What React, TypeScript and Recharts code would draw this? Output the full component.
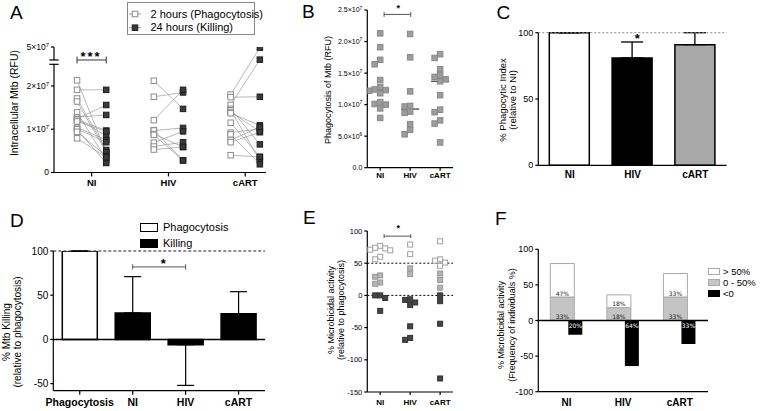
import React from "react";
import {
    ScatterChart,
    Scatter,
    BarChart,
    Bar,
    XAxis,
    YAxis,
    ReferenceLine,
    ErrorBar,
    LabelList,
    Cell,
} from "recharts";

const FONT = "'Liberation Sans', Arial, Helvetica, sans-serif";
const AXIS = { stroke: "#000", strokeWidth: 1.2 };

// groups shared by every panel
const groups = ["NI", "HIV", "cART"];

// A + B: intracellular Mtb (RFU) at 2 h (phagocytosis) and 24 h (killing)
const niPhago = [2.13e7, 1.91e7, 1.71e7, 1.64e7, 1.39e7, 1.28e7, 1.24e7, 1.23e7, 1.22e7, 1.18e7, 1.04e7, 1.01e7, 1.0e7, 0.94e7, 0.79e7];
const niKill = [0.45e7, 1.91e7, 0.52e7, 0.47e7, 0.3e7, 1.33e7, 1.56e7, 0.85e7, 0.97e7, 0.95e7, 0.75e7, 0.7e7, 0.22e7, 0.38e7, 0.35e7];
const hivPhago = [2.12e7, 1.75e7, 1.21e7, 0.98e7, 0.97e7, 0.89e7, 0.87e7, 0.69e7, 0.6e7, 0.53e7];
const hivKill = [1.47e7, 1.85e7, 1.91e7, 0.28e7, 1.03e7, 0.59e7, 0.28e7, 0.95e7, 0.7e7, 0.59e7];
const cartPhago = [1.8e7, 1.74e7, 1.56e7, 1.47e7, 1.44e7, 1.4e7, 1.37e7, 1.15e7, 0.92e7, 0.88e7, 0.75e7, 0.7e7, 0.4e7];
const cartKill = [4.9e7, 1.75e7, 3.05e7, 0.65e7, 0.28e7, 0.95e7, 1.09e7, 0.36e7, 1.01e7, 0.19e7, 1.05e7, 0.93e7, 0.36e7];

// C: phagocytic index relative to NI
const phagoIndex = [100, 81, 91];
const phagoIndexErr = [0, 12, 9];

// D: % Mtb killing relative to phagocytosis
const killCats = ["Phagocytosis", "NI", "HIV", "cART"];
const killMean = [100, 30, -6, 29];
const killErrLow = [0, 0, 46, 0];
const killErrHigh = [0, 41, 0, 25];

// E: % microbicidal activity per individual
const niMicro = [77, 73, 70, 71, 74, 60, 56, 29, 20, 31, 18, 0, 0, -4, -24];
const hivMicro = [79, 64, 42, 33, -7, -15, -11, -6, -48, -69, -66];
const cartMicro = [84, 56, 51, 46, 54, 34, 24, 12, 0, -9, -44, -129];

// F: frequency of individuals (%)
const freqHigh = [47, 18, 33];
const freqMid = [33, 18, 33];
const freqNeg = [20, 64, 33];

// broken y axis of panel A: 0-2.5e7 linear, 3e7-5e7 squeezed on top
const brk = (v: number) => (v <= 2.5e7 ? v : 2.6e7 + (v - 3e7) * 0.15);
const unbrk = (v: number) => (v <= 2.5e7 ? v : 3e7 + (v - 2.6e7) / 0.15);

const median = (a: number[]) => {
    const s = [...a].sort((x, y) => x - y);
    const m = Math.floor(s.length / 2);
    return s.length % 2 ? s[m] : (s[m - 1] + s[m]) / 2;
};

// simple beeswarm: horizontal pixel offsets so squares don't overlap
function swarm(values: number[], pxPerUnit: number, size: number) {
    const order = values.map((_, i) => i).sort((a, b) => values[b] - values[a]);
    const placed: { x: number; y: number }[] = [];
    const off = values.map(() => 0);
    for (const i of order) {
        const y = values[i] * pxPerUnit;
        for (let k = 0; k < 30; k++) {
            const c = k === 0 ? 0 : (k % 2 ? -1 : 1) * Math.ceil(k / 2) * size;
            if (placed.every((p) => Math.abs(p.x - c) >= size || Math.abs(p.y - y) >= size)) {
                off[i] = c;
                placed.push({ x: c, y });
                break;
            }
        }
    }
    return off;
}

const square = (size: number, fill: string, stroke: string) => (p: any) => (
    <rect x={p.cx - size / 2} y={p.cy - size / 2} width={size} height={size} fill={fill} stroke={stroke} strokeWidth={1} />
);

const sciTick = (fs: number, digits: number, unmap?: (v: number) => number) => (p: any) => {
    const raw = unmap ? unmap(p.payload.value) : p.payload.value;
    let main = digits ? (0).toFixed(digits) : "0";
    let exp = "";
    if (raw !== 0) {
        const e = Math.floor(Math.log10(raw) + 1e-9);
        main = (raw / 10 ** e).toFixed(digits) + "×10";
        exp = String(e);
    }
    return (
        <text x={p.x} y={p.y} dy={fs * 0.35} textAnchor="end" fontSize={fs} fontFamily={FONT} fill="#000">
            {main}
            {exp && (
                <tspan dy={-fs * 0.4} fontSize={fs * 0.7}>
                    {exp}
                </tspan>
            )}
        </text>
    );
};

const catTick = (fs: number) => ({ fontSize: fs, fontWeight: 700, fill: "#000", fontFamily: FONT });
const numTick = (fs: number) => ({ fontSize: fs, fill: "#000", fontFamily: FONT });

// ---------- table building ----------
const pairsA = [
    [niPhago, niKill],
    [hivPhago, hivKill],
    [cartPhago, cartKill],
];
const subjectsA = pairsA.flatMap(([p, k], g) =>
    p.map((pv, i) => [
        { x: g + 1 - 0.19, y: brk(pv) },
        { x: g + 1 + 0.19, y: brk(k[i]) },
    ])
);
const openA = subjectsA.map((s) => s[0]);
const fillA = subjectsA.map((s) => s[1]);

const B_PX = 157.7 / 2.5e7;
const phagoGroups = [niPhago, hivPhago, cartPhago];
const dataB = phagoGroups.flatMap((vals, g) => {
    const off = swarm(vals, B_PX, 5.5);
    return vals.map((v, i) => ({ x: g + 1 + off[i] / 30, y: v }));
});

const dataC = groups.map((name, i) => ({ name, v: phagoIndex[i], err: [0, phagoIndexErr[i]] }));
const dataD = killCats.map((name, i) => ({ name, v: killMean[i], err: [killErrLow[i], killErrHigh[i]] }));

const microGroups = [niMicro, hivMicro, cartMicro];
const dataE = microGroups.flatMap((vals, g) => {
    const off = swarm(vals, 0.644, 5);
    return vals.map((v, i) => ({ x: g + 1 + off[i] / 30, y: v }));
});

const dataF = groups.map((name, i) => ({ name, mid: freqMid[i], high: freqHigh[i], neg: -freqNeg[i] }));

const eShape = (p: any) => {
    const v = p.payload.y;
    const [fill, stroke] = v >= 45 ? ["#fff", "#a0a0a0"] : v > 0 ? ["#b4b4b4", "#999"] : ["#444", "#333"];
    return <rect x={p.cx - 2.5} y={p.cy - 2.5} width={5} height={5} fill={fill} stroke={stroke} strokeWidth={1} />;
};

const fLabel = (where: "bottom" | "top", color: string) => (p: any) => {
    const top = Math.min(p.y, p.y + p.height);
    const bot = Math.max(p.y, p.y + p.height);
    const ty = where === "bottom" ? bot - 1.5 : top + 7;
    return (
        <text x={p.x + p.width / 2} y={ty} textAnchor="middle" fontSize={6} fontFamily="'DejaVu Sans', sans-serif" fill={color}>
            {Math.abs(p.value)}%
        </text>
    );
};

// ---------- html helpers ----------
const Abs = ({ x, y, fs, children, center, bold, ls }: any) => (
    <div
        style={{
            position: "absolute",
            left: x,
            top: y,
            fontSize: fs,
            lineHeight: `${fs}px`,
            fontFamily: FONT,
            fontWeight: bold ? 700 : 400,
            whiteSpace: "nowrap",
            letterSpacing: ls,
            transform: center ? "translateX(-50%)" : undefined,
        }}
    >
        {children}
    </div>
);

const VLabel = ({ cx, cy, fs, lh, lines }: any) => (
    <div
        style={{
            position: "absolute",
            left: cx,
            top: cy,
            transform: "translate(-50%,-50%) rotate(-90deg)",
            fontSize: fs,
            lineHeight: `${lh}px`,
            fontFamily: FONT,
            textAlign: "center",
            whiteSpace: "nowrap",
        }}
    >
        {lines.map((l: string) => (
            <div key={l}>{l}</div>
        ))}
    </div>
);

const Box = ({ x, y, w, h, fill, stroke }: any) => (
    <div style={{ position: "absolute", left: x, top: y, width: w, height: h, background: fill, border: `1px solid ${stroke}`, boxSizing: "border-box" }} />
);

const layer: React.CSSProperties = { position: "absolute", left: 0, top: 0 };

export default function App() {
    return (
        <div style={{ position: "absolute", left: 0, top: 0, width: 760, height: 411, background: "#fff", overflow: "hidden" }}>
            {/* A */}
            <div style={layer}>
                <ScatterChart width={760} height={411} margin={{ top: 47, right: 494, bottom: 218.5, left: 14 }}>
                    <XAxis type="number" dataKey="x" domain={[0.51, 3.27]} ticks={[1, 2, 3]} allowDataOverflow
                        tickFormatter={(v) => groups[v - 1]} tick={catTick(9.5)} tickSize={4} tickMargin={3}
                        axisLine={AXIS} tickLine={AXIS} height={20} />
                    <YAxis type="number" dataKey="y" domain={[0, 2.9e7]} ticks={[0, 1e7, 2e7, brk(5e7)]} allowDataOverflow
                        width={40} axisLine={false} tickLine={AXIS} tickSize={3} tick={sciTick(8.5, 0, unbrk)} />
                    <ReferenceLine segment={[{ x: 0.51, y: 0 }, { x: 0.51, y: 2.5e7 }]} stroke="#000" strokeWidth={1.2} ifOverflow="visible" />
                    <ReferenceLine segment={[{ x: 0.51, y: 2.6e7 }, { x: 0.51, y: 2.9e7 }]} stroke="#000" strokeWidth={1.2} ifOverflow="visible" />
                    <ReferenceLine segment={[{ x: 0.45, y: 2.5e7 }, { x: 0.57, y: 2.5e7 }]} stroke="#000" strokeWidth={1.2} ifOverflow="visible" />
                    <ReferenceLine segment={[{ x: 0.45, y: 2.6e7 }, { x: 0.57, y: 2.6e7 }]} stroke="#000" strokeWidth={1.2} ifOverflow="visible" />
                    <ReferenceLine segment={[{ x: 0.81, y: 2.6e7 }, { x: 1.19, y: 2.6e7 }]} stroke="#333" ifOverflow="visible" />
                    <ReferenceLine segment={[{ x: 0.81, y: 2.52e7 }, { x: 0.81, y: 2.68e7 }]} stroke="#333" ifOverflow="visible" />
                    <ReferenceLine segment={[{ x: 1.19, y: 2.52e7 }, { x: 1.19, y: 2.68e7 }]} stroke="#333" ifOverflow="visible" />
                    {subjectsA.map((s, i) => (
                        <Scatter key={i} data={s} line={{ stroke: "#9a9a9a", strokeWidth: 0.7 }} shape={() => <g />} isAnimationActive={false} />
                    ))}
                    <Scatter data={openA} shape={square(5.5, "#fff", "#8c8c8c")} isAnimationActive={false} />
                    <Scatter data={fillA} shape={square(5.5, "#3a3a3a", "#1e1e1e")} isAnimationActive={false} />
                </ScatterChart>
            </div>

            {/* B */}
            <div style={layer}>
                <ScatterChart width={760} height={411} margin={{ top: 10, right: 307, bottom: 223.3, left: 317.3 }}>
                    <XAxis type="number" dataKey="x" domain={[0.57, 3.43]} ticks={[1, 2, 3]} allowDataOverflow
                        tickFormatter={(v) => groups[v - 1]} tick={catTick(8)} tickSize={3} tickMargin={2}
                        axisLine={AXIS} tickLine={AXIS} height={20} />
                    <YAxis type="number" dataKey="y" domain={[0, 2.5e7]} ticks={[0, 5e6, 1e7, 1.5e7, 2e7, 2.5e7]} allowDataOverflow
                        width={50} axisLine={AXIS} tickLine={AXIS} tickSize={3} tick={sciTick(7, 1)} />
                    <Scatter data={dataB} shape={square(5.5, "#9c9c9c", "#888")} isAnimationActive={false} />
                    {phagoGroups.map((vals, g) => (
                        <ReferenceLine key={g} segment={[{ x: g + 0.7, y: median(vals) }, { x: g + 1.3, y: median(vals) }]} stroke="#333" strokeWidth={1.2} />
                    ))}
                    <ReferenceLine segment={[{ x: 1.13, y: 2.43e7 }, { x: 2.02, y: 2.43e7 }]} stroke="#555" ifOverflow="visible" />
                    <ReferenceLine segment={[{ x: 1.13, y: 2.39e7 }, { x: 1.13, y: 2.47e7 }]} stroke="#555" ifOverflow="visible" />
                    <ReferenceLine segment={[{ x: 2.02, y: 2.39e7 }, { x: 2.02, y: 2.47e7 }]} stroke="#555" ifOverflow="visible" />
                </ScatterChart>
            </div>

            {/* C */}
            <div style={layer}>
                <BarChart width={760} height={411} data={dataC} margin={{ top: 32.7, right: 33.3, bottom: 225.7, left: 513.3 }}>
                    <XAxis dataKey="name" tick={catTick(10)} tickLine={false} tickSize={0} tickMargin={6} axisLine={AXIS} height={20} />
                    <YAxis domain={[0, 100]} ticks={[0, 50, 100]} width={25} axisLine={AXIS} tickLine={AXIS} tickSize={3} tick={numTick(9)} />
                    <Bar dataKey="v" barSize={40} stroke="#000" strokeWidth={1.5} isAnimationActive={false}>
                        {dataC.map((_, i) => (
                            <Cell key={i} fill={["#fff", "#000", "#a8a8a8"][i]} />
                        ))}
                        <ErrorBar dataKey="err" width={11} stroke="#000" strokeWidth={1.3} direction="y" />
                    </Bar>
                    <ReferenceLine y={100} stroke="#888" strokeDasharray="2 2" />
                </BarChart>
            </div>

            {/* D */}
            <div style={layer}>
                <BarChart width={760} height={411} data={dataD} margin={{ top: 251, right: 495, bottom: 0.3, left: 23.3 }}>
                    <XAxis dataKey="name" tick={catTick(10.5)} tickSize={4} tickMargin={4} axisLine={AXIS} tickLine={AXIS} height={20} />
                    <YAxis domain={[-58, 100]} ticks={[-50, 0, 50, 100]} allowDataOverflow width={30} axisLine={AXIS} tickLine={AXIS} tickSize={3} tick={numTick(10)} />
                    <ReferenceLine y={100} stroke="#222" strokeDasharray="3 2" />
                    <Bar dataKey="v" barSize={35} stroke="#000" strokeWidth={1.5} isAnimationActive={false}>
                        {dataD.map((_, i) => (
                            <Cell key={i} fill={i === 0 ? "#fff" : "#000"} />
                        ))}
                        <ErrorBar dataKey="err" width={8.5} stroke="#000" strokeWidth={1.2} direction="y" />
                    </Bar>
                    <ReferenceLine y={0} stroke="#000" strokeWidth={1.5} />
                    <ReferenceLine segment={[{ x: "NI", y: 82 }, { x: "HIV", y: 82 }]} stroke="#555" ifOverflow="visible" />
                    <ReferenceLine segment={[{ x: "NI", y: 79 }, { x: "NI", y: 85 }]} stroke="#555" ifOverflow="visible" />
                    <ReferenceLine segment={[{ x: "HIV", y: 79 }, { x: "HIV", y: 85 }]} stroke="#555" ifOverflow="visible" />
                </BarChart>
            </div>

            {/* E */}
            <div style={layer}>
                <ScatterChart width={760} height={411} margin={{ top: 231, right: 307, bottom: 0, left: 337.3 }}>
                    <XAxis type="number" dataKey="x" domain={[0.57, 3.43]} ticks={[1, 2, 3]} allowDataOverflow
                        tickFormatter={(v) => groups[v - 1]} tick={catTick(8)} tickSize={3} tickMargin={4}
                        axisLine={AXIS} tickLine={AXIS} height={19} />
                    <YAxis type="number" dataKey="y" domain={[-150, 100]} ticks={[-150, -100, -50, 0, 50, 100]} allowDataOverflow
                        width={30} axisLine={AXIS} tickLine={AXIS} tickSize={3} tick={numTick(7.5)} />
                    <ReferenceLine y={50} stroke="#000" strokeDasharray="2 2" />
                    <ReferenceLine y={0} stroke="#000" strokeDasharray="2 2" />
                    <Scatter data={dataE} shape={eShape} isAnimationActive={false} />
                    <ReferenceLine segment={[{ x: 1.13, y: 92 }, { x: 2.02, y: 92 }]} stroke="#555" ifOverflow="visible" />
                    <ReferenceLine segment={[{ x: 1.13, y: 89 }, { x: 1.13, y: 95 }]} stroke="#555" ifOverflow="visible" />
                    <ReferenceLine segment={[{ x: 2.02, y: 89 }, { x: 2.02, y: 95 }]} stroke="#555" ifOverflow="visible" />
                </ScatterChart>
            </div>

            {/* F */}
            <div style={layer}>
                <BarChart width={760} height={411} data={dataF} barGap={-6} margin={{ top: 249.3, right: 52, bottom: 0.3, left: 508.3 }}>
                    <XAxis dataKey="name" tick={catTick(10)} tickLine={false} tickSize={0} tickMargin={7.5} axisLine={AXIS} height={19} />
                    <YAxis domain={[-100, 100]} ticks={[-100, -50, 0, 50, 100]} width={30} axisLine={AXIS} tickLine={AXIS} tickSize={3} tick={numTick(9)} />
                    <Bar dataKey="mid" stackId="pos" barSize={24} fill="#c4c4c4" stroke="#aaa" isAnimationActive={false}>
                        <LabelList dataKey="mid" content={fLabel("bottom", "#222")} />
                    </Bar>
                    <Bar dataKey="high" stackId="pos" barSize={24} fill="#fff" stroke="#aaa" isAnimationActive={false}>
                        <LabelList dataKey="high" content={fLabel("bottom", "#222")} />
                    </Bar>
                    <Bar dataKey="neg" barSize={14} fill="#000" isAnimationActive={false}>
                        <LabelList dataKey="neg" content={fLabel("top", "#fff")} />
                    </Bar>
                    <ReferenceLine y={0} stroke="#000" strokeWidth={1.5} />
                </BarChart>
            </div>

            {/* panel letters */}
            <Abs x={10} y={2.5} fs={19}>A</Abs>
            <Abs x={302} y={2} fs={19}>B</Abs>
            <Abs x={496.5} y={2.5} fs={19}>C</Abs>
            <Abs x={10} y={210.5} fs={19}>D</Abs>
            <Abs x={303} y={208} fs={19}>E</Abs>
            <Abs x={495} y={209} fs={19}>F</Abs>

            {/* axis titles */}
            <VLabel cx={13.5} cy={103} fs={10.5} lh={11} lines={["Intracellular Mtb (RFU)"]} />
            <VLabel cx={328} cy={89.5} fs={9} lh={10} lines={["Phagocytosis of Mtb (RFU)"]} />
            <VLabel cx={507.5} cy={100} fs={9.5} lh={10} lines={["% Phagocytic Index", "(relative to NI)"]} />
            <VLabel cx={12} cy={332} fs={10} lh={10.5} lines={["% Mtb Killing", "(relative to phagocytosis)"]} />
            <VLabel cx={336} cy={310} fs={9} lh={10} lines={["% Microbicidal activity", "(relative to phagocytosis)"]} />
            <VLabel cx={507} cy={325} fs={9} lh={11} lines={["% Microbicidal activity", "(Frequency of individuals %)"]} />

            {/* significance stars */}
            <Abs x={91} y={49.5} fs={13} bold center ls="2px">***</Abs>
            <Abs x={398.3} y={3.5} fs={9} bold center>*</Abs>
            <Abs x={637.3} y={31.5} fs={13} bold center>*</Abs>
            <Abs x={163.3} y={256.5} fs={13} bold center>*</Abs>
            <Abs x={398.3} y={224} fs={9} bold center>*</Abs>

            {/* legend A */}
            <div style={{ position: "absolute", left: 127, top: 2, width: 128, height: 33, border: "1px solid #888", boxSizing: "border-box" }} />
            <svg style={{ position: "absolute", left: 127, top: 2 }} width={20} height={33}>
                <line x1={2} x2={14} y1={12} y2={12} stroke="#999" />
                <rect x={5.25} y={9.25} width={5.5} height={5.5} fill="#fff" stroke="#8c8c8c" />
                <line x1={2} x2={14} y1={25.7} y2={25.7} stroke="#999" />
                <rect x={5.25} y={22.95} width={5.5} height={5.5} fill="#3a3a3a" stroke="#1e1e1e" />
            </svg>
            <Abs x={150.5} y={8.5} fs={11}>2 hours (Phagocytosis)</Abs>
            <Abs x={150.5} y={22.2} fs={11}>24 hours (Killing)</Abs>

            {/* legend D */}
            <Box x={140} y={223.3} w={18} h={8.5} fill="#fff" stroke="#000" />
            <Box x={140} y={239} w={18} h={8.5} fill="#000" stroke="#000" />
            <Abs x={163} y={222} fs={11}>Phagocytosis</Abs>
            <Abs x={163} y={237.5} fs={11}>Killing</Abs>

            {/* legend F */}
            <Box x={708} y={267.5} w={12} h={7} fill="#fff" stroke="#aaa" />
            <Box x={708} y={278.5} w={12} h={7} fill="#c4c4c4" stroke="#aaa" />
            <Box x={708} y={289.5} w={12} h={7} fill="#000" stroke="#000" />
            <Abs x={723} y={266.5} fs={9.5}>&gt; 50%</Abs>
            <Abs x={723} y={277.5} fs={9.5}>0 - 50%</Abs>
            <Abs x={723} y={288.5} fs={9.5}>&lt;0</Abs>
        </div>
    );
}
